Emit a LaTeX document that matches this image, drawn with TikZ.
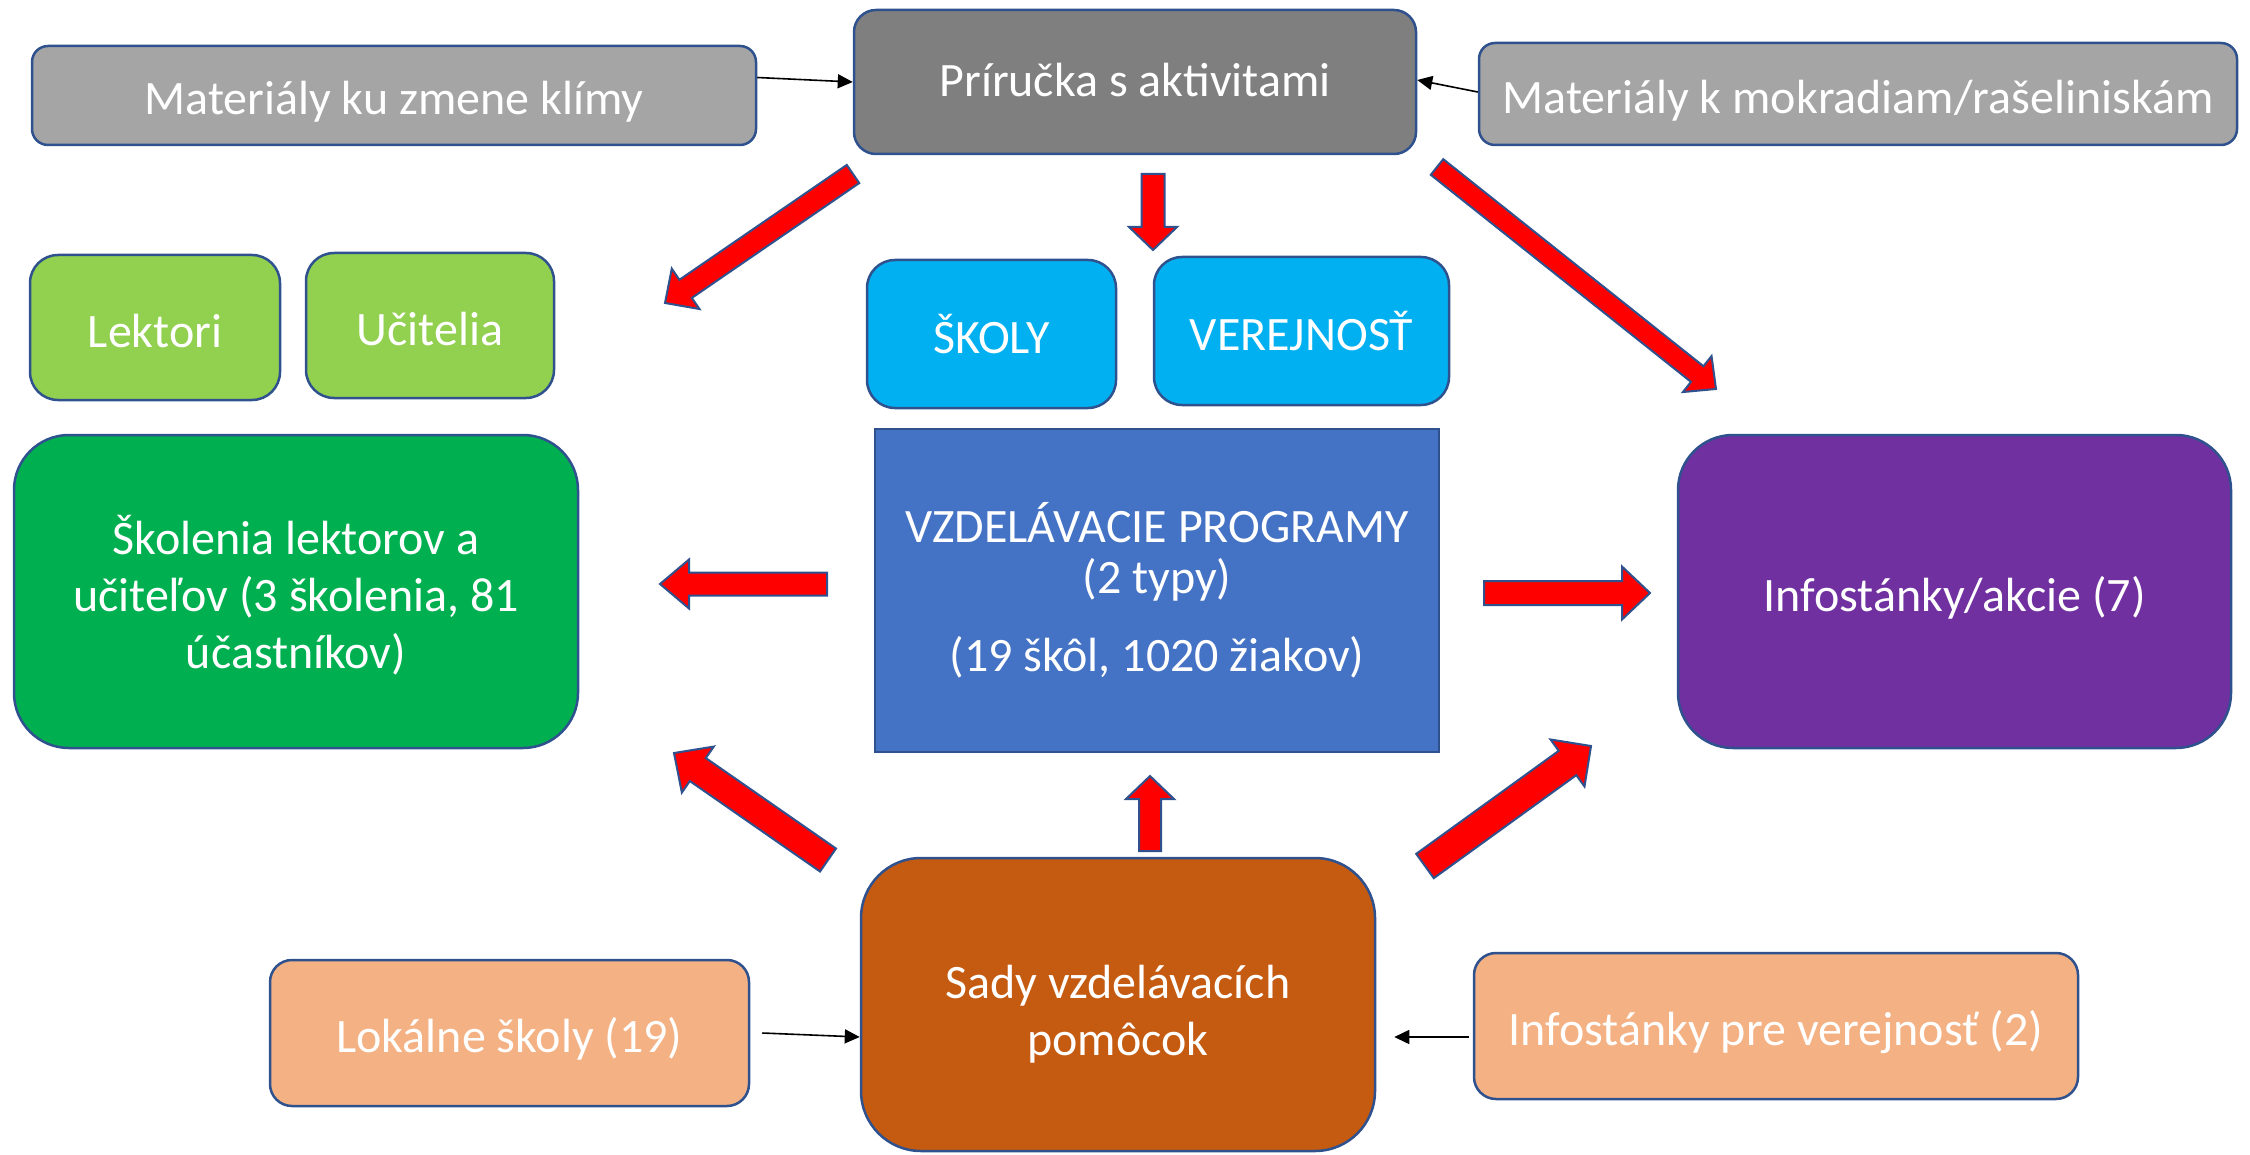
\documentclass[tikz,border=0pt]{standalone}
\usepackage{fontspec}
\setmainfont{Carlito}
\usetikzlibrary{arrows.meta,calc}
\definecolor{bord}{HTML}{2F528F}
\definecolor{grayA}{HTML}{A5A5A5}
\definecolor{grayB}{HTML}{7F7F7F}
\definecolor{lgreen}{HTML}{92D050}
\definecolor{cyanB}{HTML}{00B0F0}
\definecolor{dgreen}{HTML}{00B050}
\definecolor{blueB}{HTML}{4472C4}
\definecolor{purpleB}{HTML}{7030A0}
\definecolor{orangeB}{HTML}{C55A11}
\definecolor{peachB}{HTML}{F4B183}
\definecolor{redB}{HTML}{FF0000}
\newcommand{\tsA}[1][53pt]{\rule{0pt}{#1}}
\newcommand{\bsA}{\rule[-14pt]{0pt}{14pt}}
\tikzset{
  box/.style={draw=bord, line width=2.5pt, text=white, align=center,
    font=\fontsize{48}{57}\selectfont, inner sep=0pt, rectangle},
  thinarr/.style={draw=black, line width=1.6pt, -{Triangle[length=15pt,width=14pt]}},
  redarrow/.style={draw=bord, line width=2pt, fill=redB, line join=miter},
}
\newcommand{\blkarrow}[5]{%
  \path let \p1=(#1), \p2=(#2) in \pgfextra{%
    \pgfmathparse{atan2(\y2-\y1,\x2-\x1)}\xdef\BAang{\pgfmathresult}%
    \pgfmathparse{veclen(\x2-\x1,\y2-\y1)}\xdef\BAlen{\pgfmathresult}};
  \begin{scope}[shift={(#1)}, rotate=\BAang]
    \draw[redarrow] (0,-#3/2) -- (\BAlen-#5,-#3/2) -- (\BAlen-#5,-#4/2) -- (\BAlen,0)
      -- (\BAlen-#5,#4/2) -- (\BAlen-#5,#3/2) -- (0,#3/2) -- cycle;
  \end{scope}}
\begin{document}
\begin{tikzpicture}[x=1pt,y=1pt]
\useasboundingbox (0,0) rectangle (2250,-1155);
% boxes
\node[box, fill=grayA, rounded corners=16pt, minimum width=724pt, minimum height=99pt] (mk) at (394,-95.5) {\tsA Materiály ku zmene klímy\bsA};
\node[box, fill=grayB, rounded corners=22pt, minimum width=562pt, minimum height=144pt] (pr) at (1135,-82) {\tsA[44pt]Príručka s aktivitami\bsA};
\node[box, fill=grayA, rounded corners=16pt, minimum width=758pt, minimum height=102pt] (mm) at (1858,-94) {\tsA Materiály k mokradiam/rašeliniskám\bsA};
\node[box, fill=lgreen, rounded corners=28pt, minimum width=250pt, minimum height=145pt] (lek) at (155,-327.5) {\tsA Lektori\bsA};
\node[box, fill=lgreen, rounded corners=28pt, minimum width=248pt, minimum height=145pt] (uci) at (430,-325.5) {\tsA Učitelia\bsA};
\node[box, fill=cyanB, rounded corners=28pt, minimum width=249pt, minimum height=148pt] (sko) at (991.5,-334) {\tsA ŠKOLY\bsA};
\node[box, fill=cyanB, rounded corners=28pt, minimum width=295pt, minimum height=148pt] (ver) at (1301.5,-331) {\tsA VEREJNOSŤ\bsA};
\node[box, fill=dgreen, rounded corners=55pt, minimum width=564pt, minimum height=313pt] (skol) at (296,-591.5) {\tsA Školenia lektorov a\\učiteľov (3 školenia, 81\\účastníkov)\bsA};
\node[box, fill=blueB, minimum width=564pt, minimum height=323pt] (vzd) at (1157,-590.5) {\tsA[47pt]VZDELÁVACIE PROGRAMY\\[-6pt](2 typy)\\[21pt](19 škôl, 1020 žiakov)\bsA};
\node[box, fill=purpleB, rounded corners=55pt, minimum width=553pt, minimum height=313pt] (inf) at (1954.5,-591.5) {\tsA Infostánky/akcie (7)\bsA};
\node[box, fill=orangeB, rounded corners=60pt, minimum width=514pt, minimum height=293pt] (sady) at (1118,-1004.5) {\tsA[58pt]Sady vzdelávacích\\pomôcok\bsA};
\node[box, fill=peachB, rounded corners=22pt, minimum width=479pt, minimum height=146pt] (lok) at (509.5,-1033) {\tsA Lokálne školy (19)\bsA};
\node[box, fill=peachB, rounded corners=22pt, minimum width=604pt, minimum height=146pt] (ipv) at (1776,-1026) {\tsA Infostánky pre verejnosť (2)\bsA};
% thin arrows
\draw[thinarr] ([yshift=18pt]mk.east) -- (pr.west);
\draw[thinarr] ([yshift=2pt]mm.west) -- ([yshift=2pt]pr.east);
\coordinate (lokstart) at ([xshift=12pt]lok.east);
\draw[thinarr] (lokstart) -- ([yshift=-4pt]sady.west |- lok.east);
\coordinate (ipvend) at ([xshift=18pt,yshift=-11pt]sady.east |- ipv.west);
\draw[thinarr] ([xshift=-4pt,yshift=-11pt]ipv.west) -- (ipvend);
% block arrow end points
\coordinate (a1s) at (853,-174); \coordinate (a1e) at (665,-303);
\coordinate (a2s) at (1153,-174); \coordinate (a2e) at (1153,-250);
\coordinate (a3s) at (1437,-167); \coordinate (a3e) at (1716,-389);
\coordinate (a4s) at (827,-584); \coordinate (a4e) at (660,-584);
\coordinate (a5s) at (1484,-593); \coordinate (a5e) at (1650,-593);
\coordinate (a6s) at (828,-860); \coordinate (a6e) at (674,-753);
\coordinate (a7s) at (1150,-851); \coordinate (a7e) at (1150,-776);
\coordinate (a8s) at (1425,-866); \coordinate (a8e) at (1591,-746);
\blkarrow{a1s}{a1e}{22}{49}{25}
\blkarrow{a2s}{a2e}{23}{48}{23}
\blkarrow{a3s}{a3e}{20}{46}{24}
\blkarrow{a4s}{a4e}{23}{49}{29}
\blkarrow{a5s}{a5e}{24}{53}{28}
\blkarrow{a6s}{a6e}{28}{56}{29}
\blkarrow{a7s}{a7e}{22}{48}{23}
\blkarrow{a8s}{a8e}{30}{58}{29}
\end{tikzpicture}
\end{document}
